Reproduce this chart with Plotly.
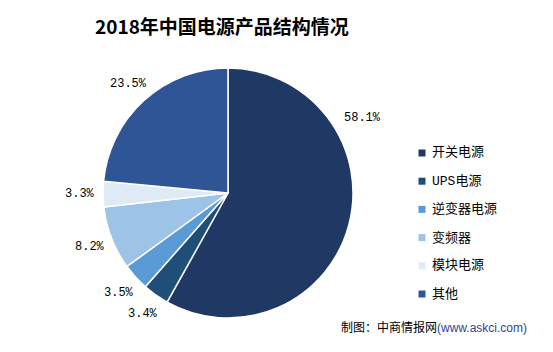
import math
import plotly.graph_objects as go

# ---- data ----
categories = ["开关电源", "UPS电源", "逆变器电源", "变频器", "模块电源", "其他"]
shares = [58.1, 3.4, 3.5, 8.2, 3.3, 23.5]
colors = ["#203864", "#1F4E79", "#5B9BD5", "#9DC3E6", "#DEEBF7", "#2F5597"]
title_text = "2018年中国电源产品结构情况"
source_text = "制图：中商情报网"
source_url = "(www.askci.com)"

# ---- layout constants (pixels) ----
W, H = 553, 352
CX, CY, R = 228, 193, 125
LABEL_R = 148
LABEL_ANGLE_OVERRIDE = {0: (61, 154)}  # Excel "best fit" placement of the big slice label
LEG_X, LEG_Y0, LEG_DY, LEG_SQ = 422, 153, 28.2, 7


def px(x):
    return x / W


def py(y):
    return 1 - y / H


fig = go.Figure(go.Pie(
    labels=categories,
    values=shares,
    marker=dict(colors=colors, line=dict(color="white", width=1.5)),
    sort=False,
    direction="clockwise",
    rotation=0,
    textinfo="none",
    hoverinfo="label+percent",
    domain=dict(x=[px(CX - R), px(CX + R)], y=[py(CY + R), py(CY - R)]),
    showlegend=False,
))

annotations = []
shapes = []

# percentage labels around the pie, placed at slice mid-angles
total = sum(shares)
cum = 0.0
for i, v in enumerate(shares):
    mid = (cum + v / 2) / total * 360
    cum += v
    ang, rr = LABEL_ANGLE_OVERRIDE.get(i, (mid, LABEL_R))
    a = math.radians(ang)
    x = CX + rr * math.sin(a)
    y = CY - rr * math.cos(a)
    annotations.append(dict(
        x=px(x), y=py(y), xref="paper", yref="paper",
        text=f"{v:.1f}%", showarrow=False,
        font=dict(family="Liberation Mono, Noto Sans CJK SC", size=12, color="#000000"),
        xanchor="center", yanchor="middle",
    ))

# custom legend
for i, (c, col) in enumerate(zip(categories, colors)):
    y = LEG_Y0 + i * LEG_DY
    shapes.append(dict(
        type="rect", xref="paper", yref="paper",
        x0=px(LEG_X - LEG_SQ / 2), x1=px(LEG_X + LEG_SQ / 2),
        y0=py(y + LEG_SQ / 2), y1=py(y - LEG_SQ / 2),
        fillcolor=col, line=dict(width=0),
    ))
    annotations.append(dict(
        x=px(LEG_X + 8), y=py(y), xref="paper", yref="paper",
        text=c, showarrow=False,
        font=dict(family="Liberation Mono, Noto Sans CJK SC", size=13, color="#000000"),
        xanchor="left", yanchor="middle",
    ))

# title
annotations.append(dict(
    x=px(222), y=py(25), xref="paper", yref="paper",
    text=f"<b>{title_text}</b>", showarrow=False,
    font=dict(family="Noto Sans CJK SC", size=19, color="#000000"),
    xanchor="center", yanchor="middle",
))

# source
annotations.append(dict(
    x=px(529), y=py(326), xref="paper", yref="paper",
    text=f"{source_text}<span style='color:#2E4690;font-family:Liberation Sans'>{source_url}</span>",
    showarrow=False,
    font=dict(family="Noto Sans CJK SC", size=12, color="#000000"),
    xanchor="right", yanchor="middle",
))

fig.update_layout(
    width=W, height=H,
    margin=dict(l=0, r=0, t=0, b=0),
    paper_bgcolor="white",
    plot_bgcolor="white",
    annotations=annotations,
    shapes=shapes,
)

fig.write_html("out.html")
